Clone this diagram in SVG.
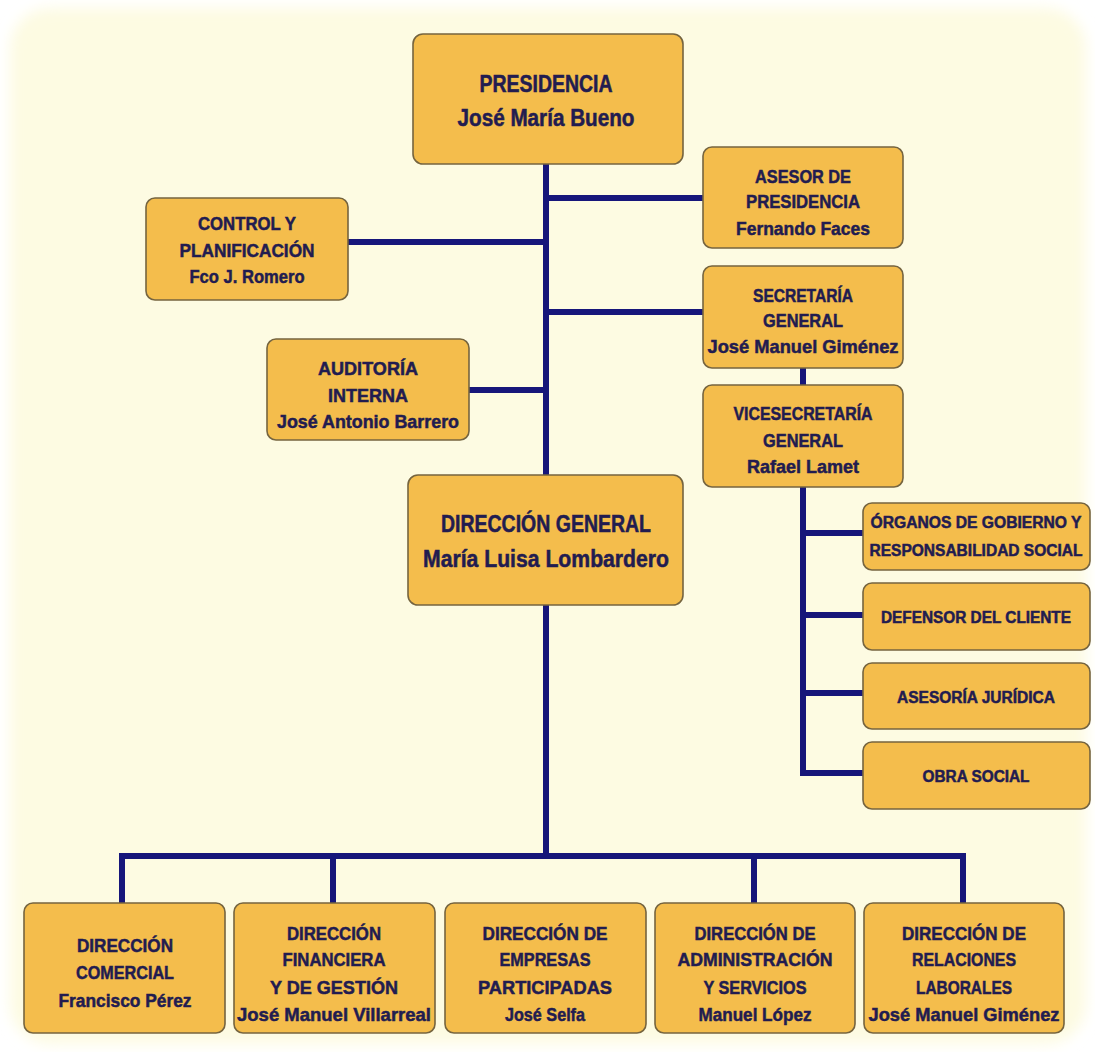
<svg xmlns="http://www.w3.org/2000/svg" width="1095" height="1052" viewBox="0 0 1095 1052">
<defs>
<filter id="soft" x="-5%" y="-5%" width="110%" height="110%"><feGaussianBlur stdDeviation="7"/></filter>
<style>
.box{fill:#F4BD4C;stroke:#75643f;stroke-width:1.6}
.t{font-family:"Liberation Sans",Arial,sans-serif;font-weight:bold;fill:#221c50;stroke:#221c50;stroke-width:0.5;text-anchor:middle;font-size:19px}
.big{font-size:23px}
.sm{font-size:16px}
.ln{stroke:#16167a;stroke-width:6;fill:none;stroke-linecap:butt}
</style>
</defs>
<rect width="1095" height="1052" fill="#ffffff"/>
<rect x="10" y="8" width="1076" height="1036" rx="40" fill="#FDFBE2" filter="url(#soft)"/>

<g id="connectors">
<path class="ln" d="M546 164V856"/>
<path class="ln" d="M546 198H703"/>
<path class="ln" d="M546 312H703"/>
<path class="ln" d="M348 242H546"/>
<path class="ln" d="M469 390H546"/>
<path class="ln" d="M803 368V385"/>
<path class="ln" d="M803 487V773"/>
<path class="ln" d="M803 533H863"/>
<path class="ln" d="M803 615H863"/>
<path class="ln" d="M803 693H863"/>
<path class="ln" d="M800 773H863"/>
<path class="ln" d="M122 903V856H963V903"/>
<path class="ln" d="M333 856V903"/>
<path class="ln" d="M754 856V903"/>
</g>

<g id="presidencia">
<rect class="box" x="413" y="34" width="270" height="130" rx="10"/>
<text class="t big" x="546" y="92" textLength="133" lengthAdjust="spacingAndGlyphs">PRESIDENCIA</text>
<text class="t big" x="546" y="126" textLength="177" lengthAdjust="spacingAndGlyphs">José María Bueno</text>
</g>

<g id="asesor">
<rect class="box" x="703" y="147" width="200" height="101" rx="9"/>
<text class="t" x="803" y="183" textLength="96" lengthAdjust="spacingAndGlyphs">ASESOR DE</text>
<text class="t" x="803" y="208" textLength="114" lengthAdjust="spacingAndGlyphs">PRESIDENCIA</text>
<text class="t" x="803" y="235" textLength="134" lengthAdjust="spacingAndGlyphs">Fernando Faces</text>
</g>

<g id="control">
<rect class="box" x="146" y="198" width="202" height="102" rx="9"/>
<text class="t" x="247" y="230" textLength="98" lengthAdjust="spacingAndGlyphs">CONTROL Y</text>
<text class="t" x="247" y="257" textLength="135" lengthAdjust="spacingAndGlyphs">PLANIFICACIÓN</text>
<text class="t" x="247" y="283" textLength="115" lengthAdjust="spacingAndGlyphs">Fco J. Romero</text>
</g>

<g id="secretaria">
<rect class="box" x="703" y="266" width="200" height="102" rx="9"/>
<text class="t" x="803" y="302" textLength="100" lengthAdjust="spacingAndGlyphs">SECRETARÍA</text>
<text class="t" x="803" y="327" textLength="80" lengthAdjust="spacingAndGlyphs">GENERAL</text>
<text class="t" x="803" y="353" textLength="191" lengthAdjust="spacingAndGlyphs">José Manuel Giménez</text>
</g>

<g id="auditoria">
<rect class="box" x="267" y="339" width="202" height="101" rx="9"/>
<text class="t" x="368" y="375" textLength="100" lengthAdjust="spacingAndGlyphs">AUDITORÍA</text>
<text class="t" x="368" y="402" textLength="80" lengthAdjust="spacingAndGlyphs">INTERNA</text>
<text class="t" x="368" y="428" textLength="182" lengthAdjust="spacingAndGlyphs">José Antonio Barrero</text>
</g>

<g id="vicesecretaria">
<rect class="box" x="703" y="385" width="200" height="102" rx="9"/>
<text class="t" x="803" y="420" textLength="139" lengthAdjust="spacingAndGlyphs">VICESECRETARÍA</text>
<text class="t" x="803" y="447" textLength="80" lengthAdjust="spacingAndGlyphs">GENERAL</text>
<text class="t" x="803" y="473" textLength="112" lengthAdjust="spacingAndGlyphs">Rafael Lamet</text>
</g>

<g id="direccion-general">
<rect class="box" x="408" y="475" width="275" height="130" rx="10"/>
<text class="t big" x="546" y="532" textLength="210" lengthAdjust="spacingAndGlyphs">DIRECCIÓN GENERAL</text>
<text class="t big" x="546" y="567" textLength="246" lengthAdjust="spacingAndGlyphs">María Luisa Lombardero</text>
</g>

<g id="organos">
<rect class="box" x="863" y="503" width="227" height="67" rx="9"/>
<text class="t sm" x="976" y="528" textLength="211" lengthAdjust="spacingAndGlyphs">ÓRGANOS DE GOBIERNO Y</text>
<text class="t sm" x="976" y="556" textLength="213" lengthAdjust="spacingAndGlyphs">RESPONSABILIDAD SOCIAL</text>
</g>

<g id="defensor">
<rect class="box" x="863" y="583" width="227" height="67" rx="9"/>
<text class="t sm" x="976" y="623" textLength="190" lengthAdjust="spacingAndGlyphs">DEFENSOR DEL CLIENTE</text>
</g>

<g id="asesoria">
<rect class="box" x="863" y="663" width="227" height="66" rx="9"/>
<text class="t sm" x="976" y="703" textLength="158" lengthAdjust="spacingAndGlyphs">ASESORÍA JURÍDICA</text>
</g>

<g id="obra-social">
<rect class="box" x="863" y="742" width="227" height="67" rx="9"/>
<text class="t sm" x="976" y="782" textLength="107" lengthAdjust="spacingAndGlyphs">OBRA SOCIAL</text>
</g>

<g id="dir-comercial">
<rect class="box" x="24" y="903" width="201" height="130" rx="9"/>
<text class="t" x="125" y="952" textLength="96" lengthAdjust="spacingAndGlyphs">DIRECCIÓN</text>
<text class="t" x="125" y="979" textLength="98" lengthAdjust="spacingAndGlyphs">COMERCIAL</text>
<text class="t" x="125" y="1007" textLength="133" lengthAdjust="spacingAndGlyphs">Francisco Pérez</text>
</g>

<g id="dir-financiera">
<rect class="box" x="234" y="903" width="201" height="130" rx="9"/>
<text class="t" x="334" y="940" textLength="94" lengthAdjust="spacingAndGlyphs">DIRECCIÓN</text>
<text class="t" x="334" y="966" textLength="103" lengthAdjust="spacingAndGlyphs">FINANCIERA</text>
<text class="t" x="334" y="994" textLength="128" lengthAdjust="spacingAndGlyphs">Y DE GESTIÓN</text>
<text class="t" x="334" y="1021" textLength="194" lengthAdjust="spacingAndGlyphs">José Manuel Villarreal</text>
</g>

<g id="dir-empresas">
<rect class="box" x="445" y="903" width="201" height="130" rx="9"/>
<text class="t" x="545" y="940" textLength="125" lengthAdjust="spacingAndGlyphs">DIRECCIÓN DE</text>
<text class="t" x="545" y="966" textLength="91" lengthAdjust="spacingAndGlyphs">EMPRESAS</text>
<text class="t" x="545" y="994" textLength="134" lengthAdjust="spacingAndGlyphs">PARTICIPADAS</text>
<text class="t" x="545" y="1021" textLength="80" lengthAdjust="spacingAndGlyphs">José Selfa</text>
</g>

<g id="dir-administracion">
<rect class="box" x="655" y="903" width="200" height="130" rx="9"/>
<text class="t" x="755" y="940" textLength="121" lengthAdjust="spacingAndGlyphs">DIRECCIÓN DE</text>
<text class="t" x="755" y="966" textLength="155" lengthAdjust="spacingAndGlyphs">ADMINISTRACIÓN</text>
<text class="t" x="755" y="994" textLength="103" lengthAdjust="spacingAndGlyphs">Y SERVICIOS</text>
<text class="t" x="755" y="1021" textLength="113" lengthAdjust="spacingAndGlyphs">Manuel López</text>
</g>

<g id="dir-relaciones">
<rect class="box" x="864" y="903" width="200" height="130" rx="9"/>
<text class="t" x="964" y="940" textLength="124" lengthAdjust="spacingAndGlyphs">DIRECCIÓN DE</text>
<text class="t" x="964" y="966" textLength="104" lengthAdjust="spacingAndGlyphs">RELACIONES</text>
<text class="t" x="964" y="994" textLength="96" lengthAdjust="spacingAndGlyphs">LABORALES</text>
<text class="t" x="964" y="1021" textLength="191" lengthAdjust="spacingAndGlyphs">José Manuel Giménez</text>
</g>
</svg>
